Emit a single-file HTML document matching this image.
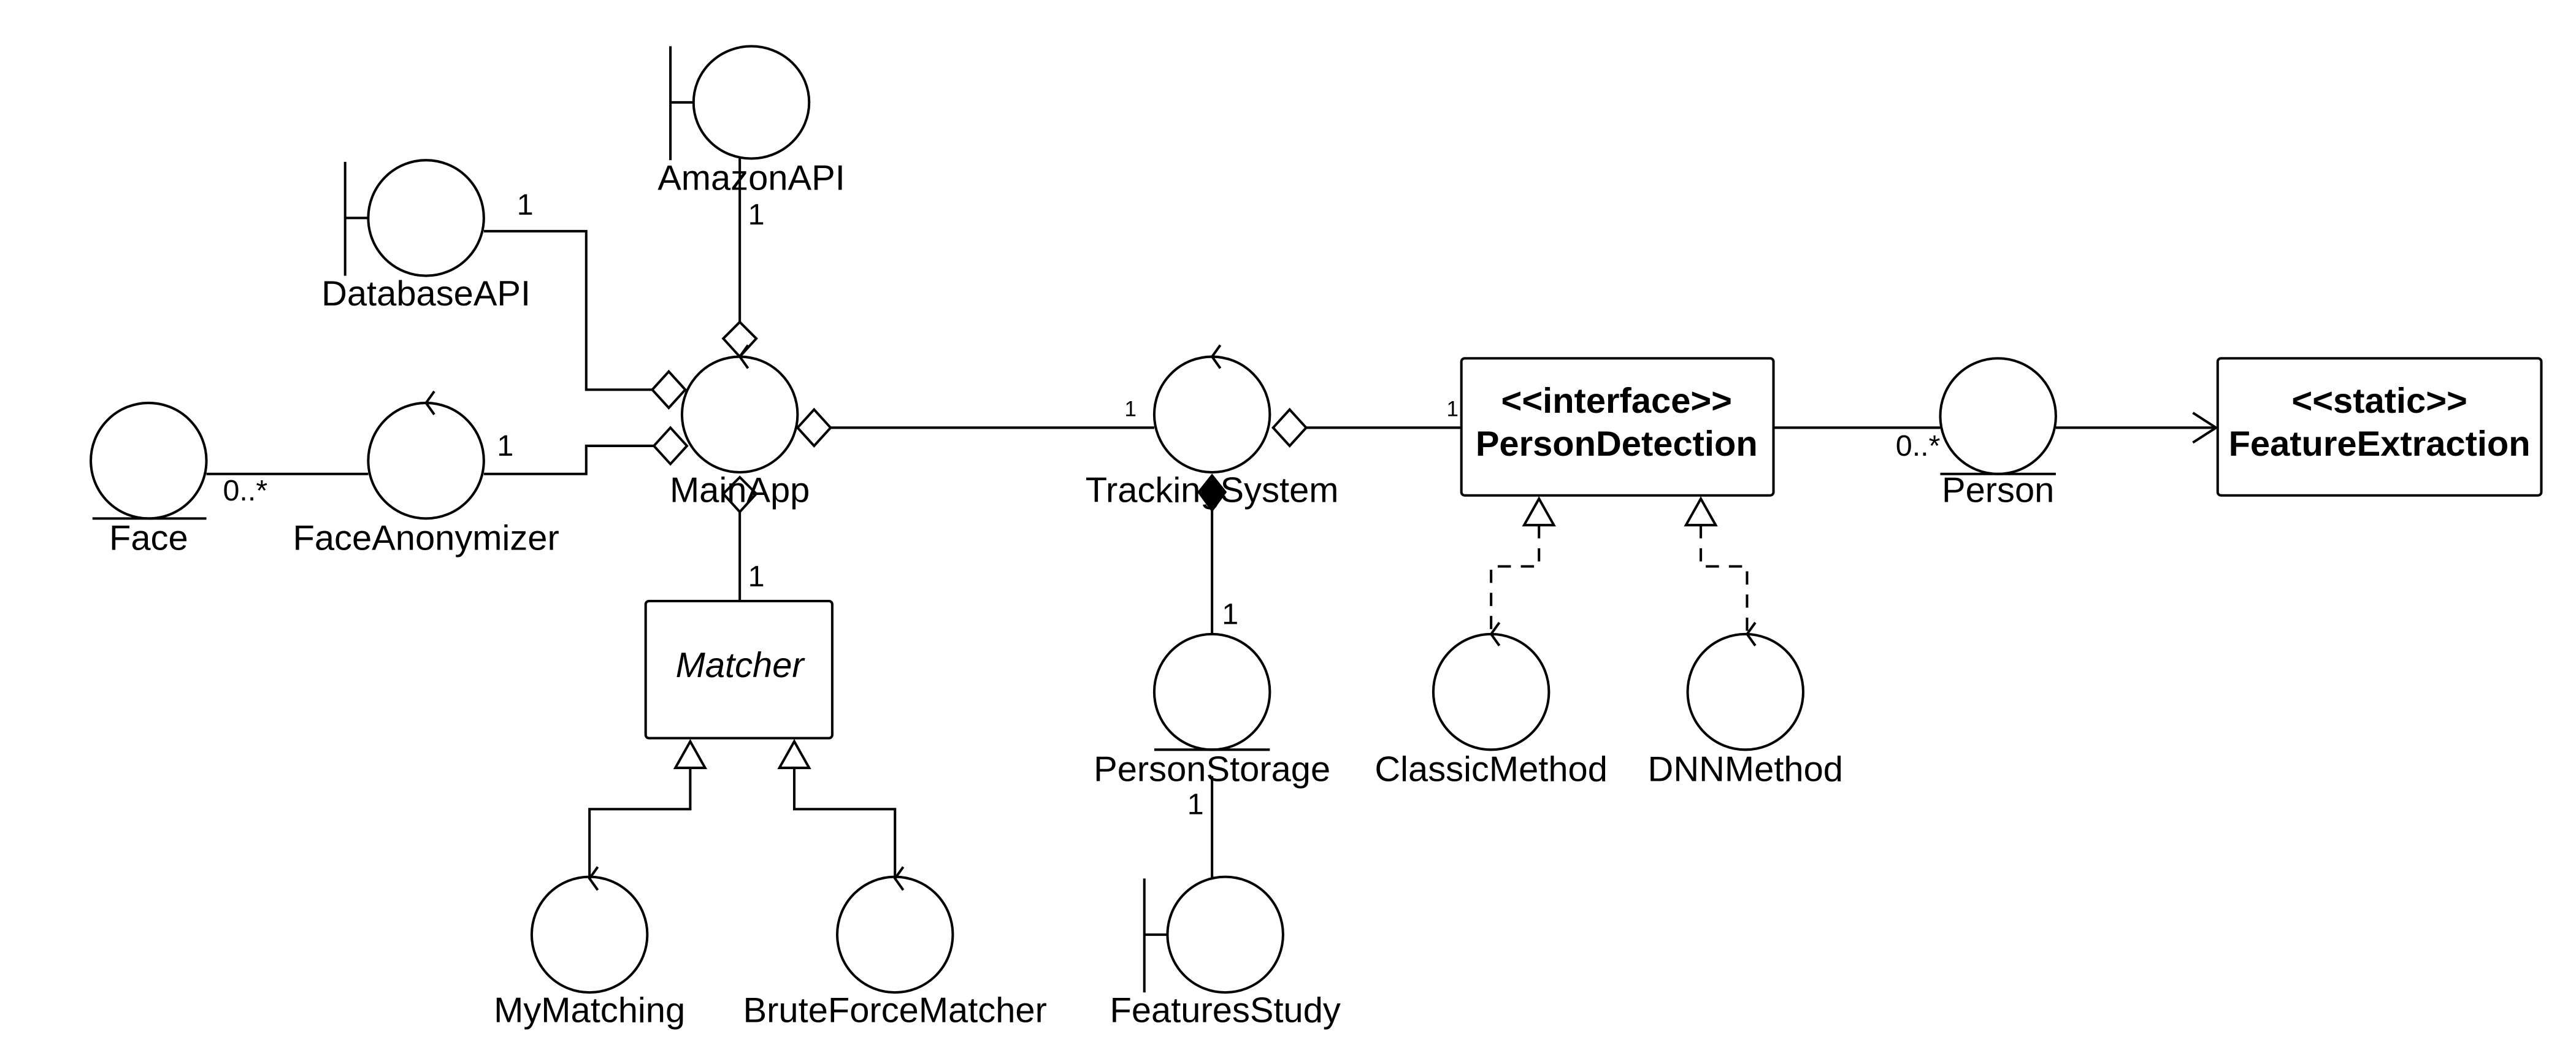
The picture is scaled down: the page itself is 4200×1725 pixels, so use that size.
<!DOCTYPE html>
<html><head><meta charset="utf-8"><style>
html,body{margin:0;padding:0;background:#fff;}
svg{display:block;}
text{font-family:"Liberation Sans",sans-serif;fill:#000;}
</style></head><body>
<svg width="4200" height="1725" viewBox="0 0 1560 640.7" xmlns="http://www.w3.org/2000/svg">
<rect width="1560" height="641" fill="#fff"/>
<g fill="none" stroke="#000" stroke-width="1.5">
<ellipse cx="455" cy="62" rx="35" ry="34"/>
<line x1="406" y1="28" x2="406" y2="97"/><line x1="406" y1="62" x2="420" y2="62"/>
<line x1="448" y1="96" x2="448" y2="195"/>
<path d="M448,195 L458,205 L448,216 L438,205 Z" fill="#fff"/>
<ellipse cx="258" cy="132" rx="35" ry="35"/>
<line x1="209" y1="98" x2="209" y2="167"/><line x1="209" y1="132" x2="223" y2="132"/>
<path d="M293,140 L355,140 L355,236 L395,236"/>
<path d="M395,236 L405,225 L415,236 L405,247 Z" fill="#fff"/>
<ellipse cx="448" cy="251" rx="35" ry="35"/>
<path d="M453,209 L448,216 L453,223"/>
<path d="M293,287 L355,287 L355,270 L396,270"/>
<path d="M396,270 L406,259 L416,270 L406,281 Z" fill="#fff"/>
<ellipse cx="90" cy="279" rx="35" ry="35"/>
<line x1="56" y1="314" x2="125" y2="314"/>
<line x1="125" y1="287" x2="223" y2="287"/>
<ellipse cx="258" cy="279" rx="35" ry="35"/>
<path d="M263,237 L258,244 L263,251"/>
<path d="M483,259 L493,248 L503,259 L493,270 Z" fill="#fff"/>
<line x1="503" y1="259" x2="699" y2="259"/>
<ellipse cx="734" cy="251" rx="35" ry="35"/>
<path d="M739,209 L734,216 L739,223"/>
<path d="M771,259 L781,248 L791,259 L781,270 Z" fill="#fff"/>
<line x1="791" y1="259" x2="885" y2="259"/>
<path d="M734,288 L742,298 L734,309 L726,298 Z" fill="#000"/>
<line x1="734" y1="309" x2="734" y2="384"/>
<ellipse cx="734" cy="419" rx="35" ry="35"/>
<line x1="699" y1="454" x2="769" y2="454"/>
<line x1="734" y1="470" x2="734" y2="532"/>
<ellipse cx="742" cy="566" rx="35" ry="35"/>
<line x1="693" y1="532" x2="693" y2="601"/><line x1="693" y1="566" x2="707" y2="566"/>
<path d="M448,289 L458,299 L448,310 L438,299 Z" fill="#fff"/>
<line x1="448" y1="310" x2="448" y2="364"/>
<rect x="391" y="364" width="113" height="83" rx="2"/>
<path d="M418,449 L427,465 L409,465 Z" fill="#fff"/>
<path d="M481,449 L490,465 L472,465 Z" fill="#fff"/>
<path d="M418,465 L418,490 L357,490 L357,532"/>
<path d="M481,465 L481,490 L542,490 L542,532"/>
<ellipse cx="357" cy="566" rx="35" ry="35"/>
<path d="M362,525 L357,532 L362,539"/>
<ellipse cx="542" cy="566" rx="35" ry="35"/>
<path d="M547,525 L542,532 L547,539"/>
<rect x="885" y="217" width="189" height="83" rx="2"/>
<line x1="1074" y1="259" x2="1175" y2="259"/>
<ellipse cx="1210" cy="252" rx="35" ry="35"/>
<line x1="1175" y1="287" x2="1245" y2="287"/>
<line x1="1245" y1="259" x2="1342" y2="259"/>
<path d="M1328,250 L1342,259 L1328,268"/>
<rect x="1343" y="217" width="196" height="83" rx="2"/>
<path d="M932,302 L941,318 L923,318 Z" fill="#fff"/>
<path d="M1030,302 L1039,318 L1021,318 Z" fill="#fff"/>
<path d="M932,318 L932,343 L903,343 L903,384" stroke-dasharray="8,6"/>
<path d="M1030,318 L1030,343 L1058,343 L1058,384" stroke-dasharray="8,6"/>
<path d="M908,377 L903,384 L908,391"/>
<path d="M1063,377 L1058,384 L1063,391"/>
<ellipse cx="903" cy="419" rx="35" ry="35"/>
<ellipse cx="1057" cy="419" rx="35" ry="35"/>
</g>
<g font-size="21.5" text-anchor="middle">
<text x="455" y="115">AmazonAPI</text>
<text x="258" y="185">DatabaseAPI</text>
<text x="448" y="304">MainApp</text>
<text x="90" y="333">Face</text>
<text x="258" y="333">FaceAnonymizer</text>
<text x="734" y="304">TrackingSystem</text>
<text x="734" y="473">PersonStorage</text>
<text x="742" y="619">FeaturesStudy</text>
<text x="448" y="410" font-style="italic">Matcher</text>
<text x="357" y="619">MyMatching</text>
<text x="542" y="619">BruteForceMatcher</text>
<text x="903" y="473">ClassicMethod</text>
<text x="1057" y="473">DNNMethod</text>
<text x="1210" y="304">Person</text>
<text x="979" y="250" font-weight="bold">&lt;&lt;interface&gt;&gt;</text>
<text x="979" y="276" font-weight="bold">PersonDetection</text>
<text x="1441" y="250" font-weight="bold">&lt;&lt;static&gt;&gt;</text>
<text x="1441" y="276" font-weight="bold">FeatureExtraction</text>
</g>
<g font-size="18">
<text x="453" y="136">1</text>
<text x="313" y="130">1</text>
<text x="301" y="276">1</text>
<text x="135" y="303">0..*</text>
<text x="453" y="355">1</text>
<text x="740" y="378">1</text>
<text x="719" y="493">1</text>
<text x="1148" y="276">0..*</text>
<text x="681" y="252" font-size="13">1</text>
<text x="876" y="252" font-size="13">1</text>
</g>
</svg>
</body></html>
